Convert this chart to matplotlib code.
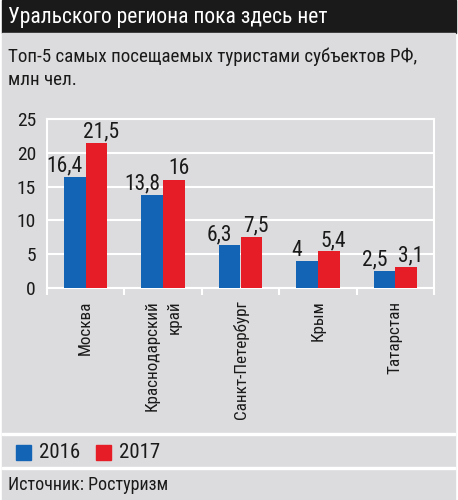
import matplotlib
matplotlib.use("Agg")
import matplotlib.pyplot as plt
import numpy as np
from matplotlib.patches import Rectangle

plt.rcParams['font.family'] = ['Roboto Condensed', 'DejaVu Sans']

# Data
regions = ["Москва", "Краснодарский\nкрай", "Санкт-Петербург", "Крым", "Татарстан"]
years = ["2016", "2017"]
v2016 = [16.4, 13.8, 6.3, 4, 2.5]
v2017 = [21.5, 16, 7.5, 5.4, 3.1]

blue = "#1464b6"
red = "#e61c26"
grey = "#dcdcde"
ink = "#1a1a1a"

W, H = 458, 500
fig = plt.figure(figsize=(W / 100, H / 100), dpi=100, facecolor="white")

def px_rect(x0, y0, x1, y1, color):
    # rectangle given in pixel coords from top-left
    fig.patches.append(Rectangle((x0 / W, 1 - y1 / H), (x1 - x0) / W, (y1 - y0) / H,
                                 transform=fig.transFigure, color=color, zorder=-5))

px_rect(2, 0, 456, 33, ink)
px_rect(2, 33, 455, 500, grey)
px_rect(2, 433, 455, 435, "white")
px_rect(2, 467, 455, 469, "white")

fig.text(8 / W, 1 - 18 / H, "Уральского региона пока здесь нет", color="white",
         fontsize=15.5, va="center", ha="left")
fig.text(8 / W, 1 - 57 / H, "Топ-5 самых посещаемых туристами субъектов РФ,",
         color=ink, fontsize=13.7, va="center", ha="left")
fig.text(8 / W, 1 - 80 / H, "млн чел.", color=ink, fontsize=13.7,
         va="center", ha="left")

# Plot area
ax = fig.add_axes([47 / W, 1 - 288 / H, (434 - 47) / W, (288 - 119) / H])
ax.set_facecolor(grey)
x = np.arange(len(regions))
bw = 0.28
ax.bar(x - bw / 2, v2016, width=bw, color=blue, zorder=3)
ax.bar(x + bw / 2, v2017, width=bw, color=red, zorder=3)

def fmt(v):
    return str(v).replace(".", ",")

for i in range(len(regions)):
    ax.text(x[i] - bw / 2 - 0.13, v2016[i] + 0.8, fmt(v2016[i]), ha="center",
            va="baseline", fontsize=15.5, color=ink, zorder=4)
    ax.text(x[i] + bw / 2 + 0.06, v2017[i] + 0.8, fmt(v2017[i]), ha="center",
            va="baseline", fontsize=15.5, color=ink, zorder=4)

ax.set_xlim(-0.5, len(regions) - 0.5)
ax.set_ylim(0, 25)
ax.set_yticks([0, 5, 10, 15, 20, 25])
ax.yaxis.grid(True, color="white", linewidth=1.5, zorder=1)
for s in ax.spines.values():
    s.set_color("white")
    s.set_linewidth(1.5)
ax.tick_params(axis="y", length=0, labelsize=14, pad=8, labelcolor=ink)

ax.set_xticks(np.arange(-0.5, len(regions)), minor=False)
ax.set_xticklabels([])
ax.tick_params(axis="x", which="major", direction="out", length=5, width=1.5,
               color="white")
ax.set_xticks(x, minor=True)
ax.set_xticklabels(regions, minor=True, rotation=90, fontsize=12.3,
                   color=ink, multialignment="right", linespacing=1.6)
ax.tick_params(axis="x", which="minor", length=0, pad=9)

# Legend
for i, (yr, c) in enumerate(zip(years, [blue, red])):
    x0 = 16 + i * 80
    px_rect(x0, 445, x0 + 15, 460, c)
    fig.text((x0 + 23) / W, 1 - 452 / H, yr, fontsize=15, va="center",
             ha="left", color=ink)

fig.text(8 / W, 1 - 485 / H, "Источник: Ростуризм", fontsize=13,
         va="center", ha="left", color=ink)

fig.savefig("out.png", dpi=100, facecolor=fig.get_facecolor())
